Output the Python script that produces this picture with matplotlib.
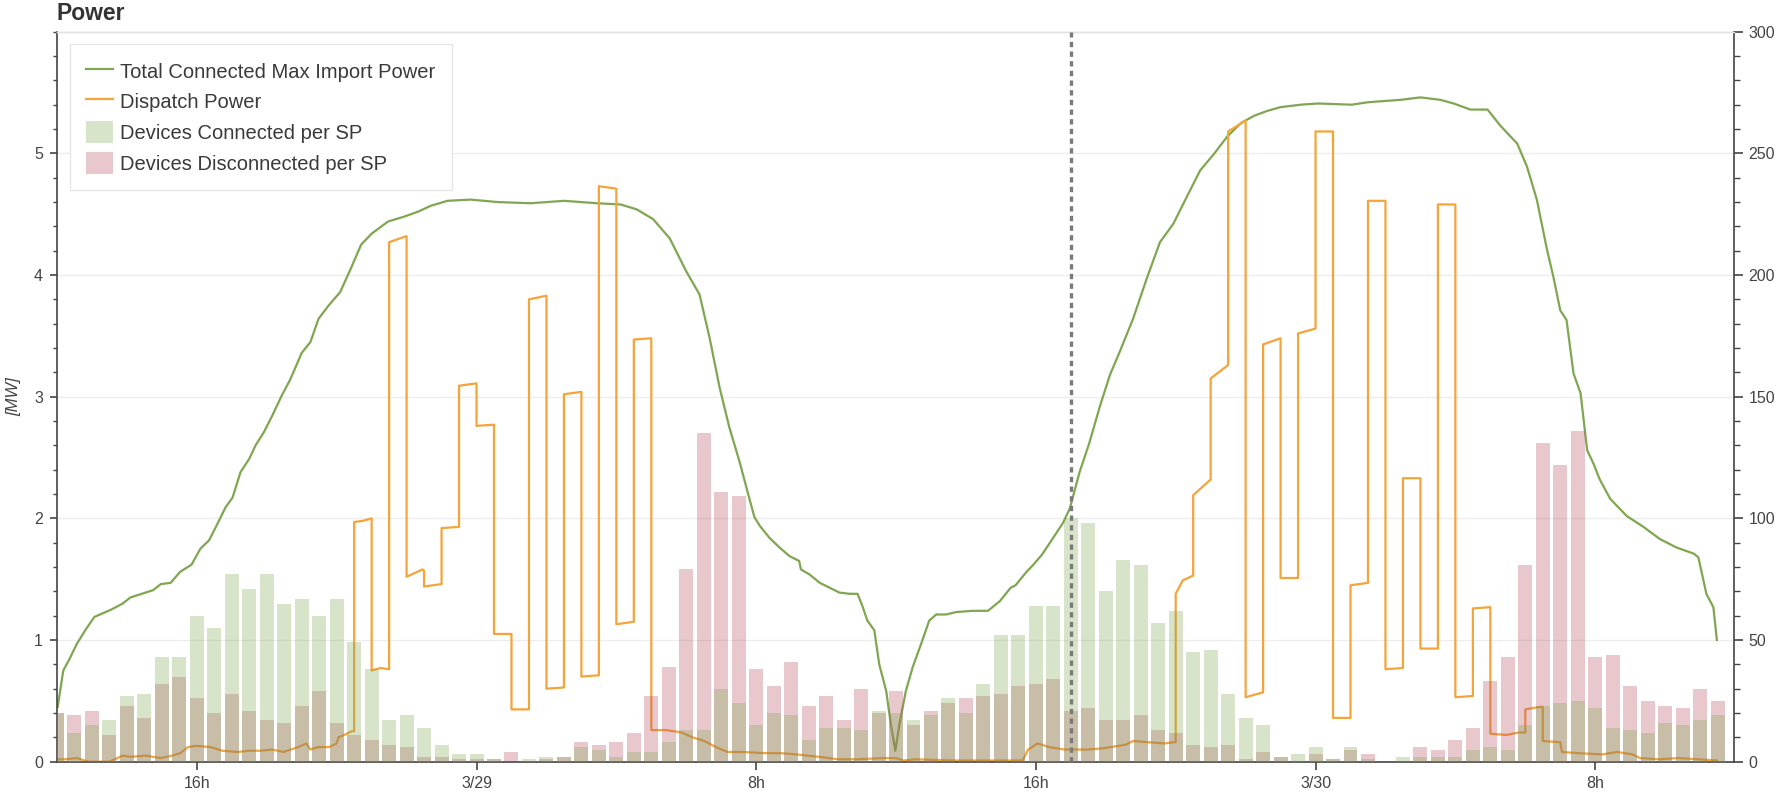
import numpy as np
import pandas as pd
import matplotlib
matplotlib.use("Agg")
import matplotlib.pyplot as plt
import matplotlib.dates as mdates
from matplotlib.lines import Line2D
from matplotlib.patches import Patch
from matplotlib.ticker import MultipleLocator, FuncFormatter

plt.rcParams['font.family'] = ['Liberation Sans', 'DejaVu Sans']

DAY0 = pd.Timestamp("2019-03-28")   # all hour values count from 3/28 00:00
SP_FIRST = "2019-03-28 12:00"       # first settlement period (30 min each)
MARKER_TIME = "2019-03-29 17:00"    # dashed vertical line

# devices per settlement period (right axis)
connected = [20, 12, 15, 17, 27, 28, 43, 43, 60, 55, 77, 71, 77, 65, 67, 60, 67, 49, 38, 17, 19, 14, 7, 3,
             3, 1, 0, 1, 2, 2, 6, 5, 2, 4, 4, 8, 13, 13, 30, 24, 15, 20, 19, 9, 14, 14, 13, 21,
             20, 17, 19, 26, 20, 32, 52, 52, 64, 64, 100, 98, 70, 83, 81, 57, 62, 45, 46, 28, 18, 15, 2, 3,
             6, 1, 6, 1, 0, 2, 2, 2, 2, 5, 6, 5, 15, 23, 24, 25, 22, 14, 13, 12, 16, 15, 17, 19]
disconnected = [20, 19, 21, 11, 23, 18, 32, 35, 26, 20, 28, 21, 17, 16, 23, 29, 16, 11, 9, 7, 6, 2, 2, 1,
                1, 1, 4, 0, 1, 2, 8, 7, 8, 12, 27, 39, 79, 135, 111, 109, 38, 31, 41, 23, 27, 17, 30, 20,
                29, 15, 21, 24, 26, 27, 28, 31, 32, 34, 21, 22, 17, 17, 19, 13, 12, 7, 6, 7, 1, 4, 2, 0,
                3, 1, 5, 3, 0, 0, 6, 5, 9, 14, 33, 43, 81, 131, 122, 136, 43, 44, 31, 25, 23, 22, 30, 25]

# total connected max import power [MW]
imp_hours = [12.02, 12.18, 12.35, 12.57, 12.83, 13.07, 13.55, 13.88, 14.1, 14.53, 14.75, 14.97, 15.25,
             15.52, 15.85, 16.1, 16.35, 16.58, 16.82, 17.02, 17.25, 17.5, 17.68, 17.92, 18.15, 18.43,
             18.67, 19.0, 19.25, 19.48, 19.77, 20.1, 20.4, 20.7, 21.0, 21.47, 21.93, 22.32, 22.7, 23.17,
             23.83, 24.6, 25.55, 26.5, 27.45, 28.12, 28.58, 29.05, 29.53, 30.0, 30.38, 30.67, 30.95,
             31.23, 31.52, 31.77, 31.95, 32.1, 32.38, 32.67, 32.95, 33.23, 33.28, 33.52, 33.82, 34.1,
             34.38, 34.67, 34.9, 35.05, 35.18, 35.38, 35.52, 35.72, 35.85, 35.98, 36.1, 36.28, 36.48,
             36.72, 36.95, 37.15, 37.43, 37.72, 38.18, 38.63, 38.97, 39.28, 39.42, 39.73, 39.9, 40.17,
             40.38, 40.77, 40.97, 41.25, 41.53, 41.83, 42.12, 42.4, 42.78, 43.17, 43.55, 43.93, 44.33,
             44.7, 45.08, 45.48, 45.87, 46.25, 46.63, 47.0, 47.58, 48.07, 49.03, 49.5, 50.43, 51.0,
             51.57, 51.95, 52.43, 52.92, 53.28, 53.77, 54.05, 54.33, 54.62, 54.8, 55.0, 55.18, 55.38,
             55.58, 55.77, 55.95, 56.13, 56.43, 56.9, 57.38, 57.85, 58.33, 58.82, 58.95, 59.18, 59.38,
             59.48]
imp_mw = [0.45, 0.75, 0.84, 0.97, 1.09, 1.19, 1.25, 1.30, 1.35, 1.39, 1.41, 1.46, 1.47,
          1.56, 1.62, 1.75, 1.82, 1.95, 2.09, 2.17, 2.38, 2.49, 2.60, 2.71, 2.84, 3.01,
          3.14, 3.36, 3.45, 3.64, 3.75, 3.86, 4.05, 4.25, 4.34, 4.44, 4.48, 4.52, 4.57, 4.61,
          4.62, 4.60, 4.59, 4.61, 4.59, 4.58, 4.54, 4.46, 4.30, 4.03, 3.84, 3.48, 3.08,
          2.75, 2.47, 2.20, 2.01, 1.94, 1.84, 1.76, 1.69, 1.65, 1.58, 1.54, 1.47, 1.43,
          1.39, 1.38, 1.38, 1.27, 1.16, 1.08, 0.80, 0.58, 0.31, 0.09, 0.31, 0.58, 0.78,
          0.97, 1.16, 1.21, 1.21, 1.23, 1.24, 1.24, 1.32, 1.43, 1.45, 1.56, 1.61, 1.70,
          1.79, 1.96, 2.08, 2.38, 2.62, 2.92, 3.18, 3.37, 3.64, 3.97, 4.27, 4.42, 4.65,
          4.86, 4.99, 5.14, 5.25, 5.31, 5.35, 5.38, 5.40, 5.41, 5.40, 5.42, 5.44, 5.46,
          5.44, 5.41, 5.36, 5.36, 5.23, 5.08, 4.89, 4.62, 4.21, 3.99, 3.71, 3.63, 3.19,
          3.03, 2.56, 2.45, 2.32, 2.16, 2.02, 1.93, 1.83, 1.76, 1.71, 1.68, 1.38, 1.27,
          1.00]

# dispatch power [MW]; repeated hours are the step jumps between settlement periods
disp_hours = [12.0, 12.25, 12.57, 12.9, 13.5, 13.88, 14.1, 14.53, 14.75, 14.97, 15.3, 15.52, 15.75,
              15.97, 16.4, 16.73, 17.17, 17.5, 17.82, 18.15, 18.48, 18.9, 19.13, 19.25, 19.47, 19.78,
              20.0, 20.05, 20.22, 20.43, 20.5,
              20.5, 20.75, 21.0, 21.0, 21.25, 21.5, 21.5, 21.8, 22.0, 22.0, 22.45, 22.5, 22.5, 23.0,
              23.0, 23.5, 23.5, 24.0, 24.0, 24.5, 24.5, 25.0, 25.0, 25.5, 25.5, 26.0, 26.0, 26.5,
              26.5, 27.0, 27.0, 27.5, 27.5, 28.0, 28.0, 28.5, 28.5, 29.0, 29.0,
              29.42, 29.87, 30.18, 30.52, 30.85, 31.18, 31.62, 32.27, 32.72, 33.15, 33.8, 34.35,
              34.9, 35.67, 36.0, 36.22, 36.55, 37.65, 39.28, 39.62, 39.78, 40.05, 40.38, 40.82,
              41.48, 41.92, 42.57, 42.78, 43.23, 43.68, 43.95, 44.0,
              44.0, 44.2, 44.5, 44.5, 45.0, 45.0, 45.5, 45.5, 46.0, 46.0, 46.5, 46.5, 47.0, 47.0,
              47.5, 47.5, 48.0, 48.0, 48.5, 48.5, 49.0, 49.0, 49.5, 49.5, 50.0, 50.0, 50.5, 50.5,
              51.0, 51.0, 51.5, 51.5, 52.0, 52.0, 52.5, 52.5, 53.0, 53.0,
              53.47, 53.8, 54.0, 54.0, 54.4, 54.5, 54.5, 55.0, 55.05, 55.53, 56.2, 56.63, 57.07,
              57.28, 57.83, 58.38, 58.93, 59.48]
disp_mw = [0.02, 0.02, 0.03, 0.0, 0.0, 0.05, 0.04, 0.05, 0.04, 0.03, 0.05, 0.07, 0.12,
           0.13, 0.12, 0.09, 0.08, 0.09, 0.09, 0.10, 0.08, 0.12, 0.15, 0.10, 0.12, 0.12,
           0.15, 0.20, 0.22, 0.25, 0.25,
           1.97, 1.98, 2.00, 0.75, 0.77, 0.76, 4.27, 4.30, 4.32, 1.52, 1.58, 1.57, 1.44, 1.46,
           1.92, 1.93, 3.09, 3.11, 2.76, 2.77, 1.05, 1.05, 0.43, 0.43, 3.80, 3.83, 0.60, 0.61,
           3.02, 3.04, 0.70, 0.71, 4.73, 4.71, 1.13, 1.15, 3.47, 3.48, 0.26,
           0.26, 0.24, 0.20, 0.17, 0.12, 0.08, 0.08, 0.07, 0.07, 0.06, 0.04, 0.02,
           0.02, 0.03, 0.03, 0.01, 0.02, 0.01, 0.01, 0.01, 0.10, 0.15, 0.12, 0.10,
           0.10, 0.11, 0.14, 0.17, 0.16, 0.15, 0.16, 0.16,
           1.38, 1.49, 1.53, 2.19, 2.32, 3.15, 3.26, 5.18, 5.27, 0.53, 0.57, 3.43, 3.48, 1.51,
           1.51, 3.52, 3.56, 5.18, 5.18, 0.36, 0.36, 1.45, 1.47, 4.61, 4.61, 0.76, 0.77, 2.33,
           2.33, 0.93, 0.93, 4.58, 4.58, 0.53, 0.54, 1.26, 1.27, 0.23,
           0.22, 0.24, 0.24, 0.43, 0.45, 0.45, 0.17, 0.16, 0.08, 0.07, 0.06, 0.08, 0.06,
           0.03, 0.02, 0.03, 0.02, 0.01]

GREEN = "#7fa650"
ORANGE = "#f5a43a"
RED = "#b5485a"
TXT = "#444444"


def to_time(hours):
    return DAY0 + pd.to_timedelta(np.asarray(hours), unit="h")


def fmt_time(x, pos):
    d = mdates.num2date(x)
    if d.hour == 0:
        return "{}/{}".format(d.month, d.day)
    return "{}h".format(d.hour)


W, H = 1781, 796
fig = plt.figure(figsize=(W / 100, H / 100), dpi=100)
left, right, top, bottom = 57, 1734, 31.7, 761.7
ax = fig.add_axes([left / W, 1 - bottom / H, (right - left) / W, (bottom - top) / H])
ax2 = ax.twinx()

ax.plot(to_time(imp_hours), imp_mw, color=GREEN, lw=1.6, zorder=2)
ax.plot(to_time(disp_hours), disp_mw, color=ORANGE, lw=1.6, zorder=2)

sp_times = pd.date_range(SP_FIRST, periods=len(connected), freq="30min")
bar_w = 0.8 * (0.5 / 24)
ax2.bar(sp_times, disconnected, width=bar_w, color=RED, alpha=0.3, lw=0)
ax2.bar(sp_times, connected, width=bar_w, color=GREEN, alpha=0.3, lw=0)
ax2.axvline(pd.Timestamp(MARKER_TIME), color="#7a7a7a", lw=2.4, ls=(0, (1.6, 1.3)), zorder=3)

t0 = DAY0 + pd.Timedelta(hours=12)
ax.set_xlim(t0, t0 + pd.Timedelta(hours=47.97))
ax.set_ylim(0, 6)
ax2.set_ylim(0, 300)

ax.xaxis.set_major_locator(mdates.HourLocator(byhour=[0, 8, 16]))
ax.xaxis.set_major_formatter(FuncFormatter(fmt_time))
ax.set_yticks(range(6))
ax.yaxis.set_minor_locator(MultipleLocator(0.2))
ax2.set_yticks(range(0, 301, 50))
ax2.yaxis.set_minor_locator(MultipleLocator(10))

ax.yaxis.grid(True, color="#ededed", lw=1)
ax.set_axisbelow(True)

for a in (ax, ax2):
    for s in a.spines.values():
        s.set_color(TXT)
        s.set_linewidth(1.2)
    a.spines["top"].set_color("#e2e2e2")
    a.spines["top"].set_linewidth(1)
ax.spines["right"].set_visible(False)
ax2.spines["left"].set_visible(False)
ax2.spines["bottom"].set_visible(False)

ax.tick_params(axis="x", which="major", length=5.5, width=1.2, color=TXT, labelsize=11.5, labelcolor=TXT, pad=5)
ax.tick_params(axis="y", which="major", length=5, width=1.2, color=TXT, labelsize=11.5, labelcolor=TXT, pad=5)
ax.tick_params(axis="y", which="minor", length=3, width=1, color=TXT)
ax2.tick_params(axis="y", which="major", length=6.5, width=1.2, color=TXT, labelsize=11.5, labelcolor=TXT, pad=4)
ax2.tick_params(axis="y", which="minor", length=4, width=1, color=TXT)

ax.set_ylabel("[MW]", style="italic", fontsize=12, color=TXT)
ax.yaxis.set_label_coords(-(left - 21) / (right - left), 0.5)

fig.text(left / W, 1 - 13 / H, "Power", fontsize=16.5, fontweight="bold", color="#333333",
         ha="left", va="center")

handles = [Line2D([], [], color=GREEN, lw=1.6),
           Line2D([], [], color=ORANGE, lw=1.6),
           Patch(facecolor=GREEN, alpha=0.3, lw=0),
           Patch(facecolor=RED, alpha=0.3, lw=0)]
labels = ["Total Connected Max Import Power", "Dispatch Power",
          "Devices Connected per SP", "Devices Disconnected per SP"]
leg = ax2.legend(handles, labels, loc="upper left",
                 bbox_to_anchor=(13 / (right - left), 1 - 12 / (bottom - top)),
                 borderaxespad=0, fontsize=14.5, frameon=True, fancybox=False, framealpha=1,
                 edgecolor="#e6e6e6", handlelength=1.35, handleheight=1.3, handletextpad=0.35,
                 labelspacing=0.44, borderpad=0.8)
for t in leg.get_texts():
    t.set_color("#3a3a3a")

fig.savefig("out.png", dpi=100)
